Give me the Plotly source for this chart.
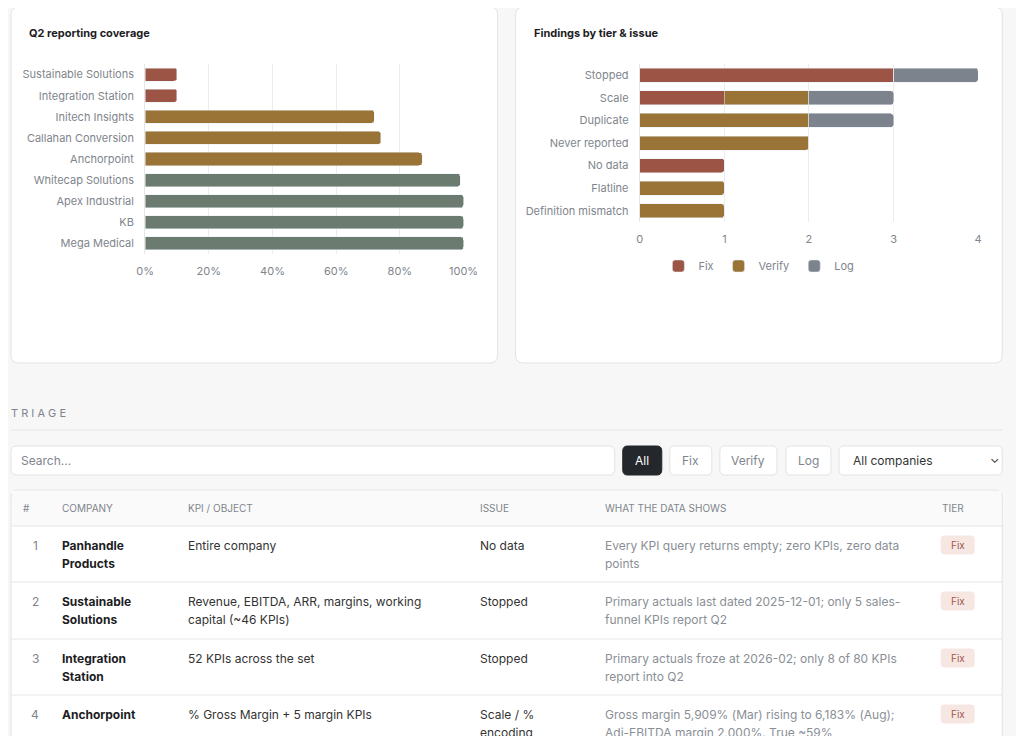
import plotly.graph_objects as go

# coverage chart
companies = ["Sustainable Solutions", "Integration Station", "Initech Insights", "Callahan Conversion",
             "Anchorpoint", "Whitecap Solutions", "Apex Industrial", "KB", "Mega Medical"]
coverage = [10, 10, 72, 74, 87, 99, 100, 100, 100]
coverage_tier = ["Fix", "Fix", "Verify", "Verify", "Verify", "Log", "Log", "Log", "Log"]

# findings chart
issues = ["Stopped", "Scale", "Duplicate", "Never reported", "No data", "Flatline", "Definition mismatch"]
fix_counts = [3, 1, 0, 0, 1, 0, 0]
verify_counts = [0, 1, 2, 2, 0, 1, 1]
log_counts = [1, 1, 1, 0, 0, 0, 0]

# triage table
row_num = ["1", "2", "3", "4"]
row_company = [["Panhandle", "Products"], ["Sustainable", "Solutions"], ["Integration", "Station"], ["Anchorpoint"]]
row_kpi = [["Entire company"], ["Revenue, EBITDA, ARR, margins, working", "capital (~46 KPIs)"],
           ["52 KPIs across the set"], ["% Gross Margin + 5 margin KPIs"]]
row_issue = [["No data"], ["Stopped"], ["Stopped"], ["Scale / %", "encoding"]]
row_shows = [["Every KPI query returns empty; zero KPIs, zero data", "points"],
             ["Primary actuals last dated 2025-12-01; only 5 sales-", "funnel KPIs report Q2"],
             ["Primary actuals froze at 2026-02; only 8 of 80 KPIs", "report into Q2"],
             ["Gross margin 5,909% (Mar) rising to 6,183% (Aug);", "Adj-EBITDA margin 2,000%. True ~59%"]]
row_tier = ["Fix", "Fix", "Fix", "Fix"]

# screen position -> figure position (page margin + scaling measured from a render)
OFFX, SX, OFFY = 17, 0.975, 8
W, H = 1008, 728
FONT = "Inter, Noto Sans, sans-serif"
tier_colors = {"Fix": "#9c5545", "Verify": "#9a7436", "Log": "#6c7b6f"}
GRAY = "#7d838c"


def px(x):
    return (x - OFFX) / SX / W


def py(y):
    return 1 - (y - OFFY) / H


def rrect(x0, y0, x1, y1, r=6):
    a, b, c, d = px(x0), py(y0), px(x1), py(y1)
    rx, ry = r / W, r / H
    return (f"M{a+rx},{b} L{c-rx},{b} Q{c},{b} {c},{b-ry} L{c},{d+ry} Q{c},{d} {c-rx},{d} "
            f"L{a+rx},{d} Q{a},{d} {a},{d+ry} L{a},{b-ry} Q{a},{b} {a+rx},{b} Z")


shapes = []
annotations = []


def box(x0, y0, x1, y1, fill="white", line="#e3e3e3", r=8):
    shapes.append(dict(type="path", path=rrect(x0, y0, x1, y1, r), xref="paper", yref="paper",
                       fillcolor=fill, line=dict(color=line, width=1), layer="below"))


def text(x, y, s, size=12, color="#333", bold=False, anchor="left"):
    if bold:
        s = "<b>" + s + "</b>"
    annotations.append(dict(x=px(x), y=py(y), xref="paper", yref="paper", text=s, showarrow=False,
                            xanchor=anchor, yanchor="middle", font=dict(size=size, color=color, family=FONT)))


def hline(x0, x1, y, color="#e6e6e6"):
    shapes.append(dict(type="line", x0=px(x0), x1=px(x1), y0=py(y), y1=py(y), xref="paper", yref="paper",
                       line=dict(color=color, width=1), layer="below"))


# cards
box(11, 7, 497, 363)
box(515, 7, 1001, 363)
text(27, 33, "Q2 reporting coverage", 11, "#1d1d1f", True)
text(531, 33, "Findings by tier & issue", 11, "#1d1d1f", True)

fig = go.Figure()
fig.add_trace(go.Bar(y=companies, x=coverage, orientation="h",
                     marker=dict(color=[tier_colors[t] for t in coverage_tier]),
                     width=0.62, showlegend=False, xaxis="x", yaxis="y"))
for name, vals, col in [("Fix", fix_counts, tier_colors["Fix"]), ("Verify", verify_counts, tier_colors["Verify"]),
                        ("Log", log_counts, GRAY)]:
    fig.add_trace(go.Bar(y=issues, x=vals, orientation="h", name=name, marker=dict(color=col),
                         width=0.62, xaxis="x2", yaxis="y2"))

axfont = dict(size=11, color="#80858d", family=FONT)

# triage section
text(9, 413, "T R I A G E", 11, "#80858d")
hline(11, 1001, 430)
box(11, 446, 614, 475, r=6)
text(19, 460, "Search...", 12, "#80858d")
box(622, 446, 661, 475, fill="#24272b", line="#24272b", r=5)
text(641.5, 460, "All", 12, "white", anchor="center")
for lab, a, b in [("Fix", 669, 711), ("Verify", 719, 776), ("Log", 785, 830)]:
    box(a, 446, b, 475, r=5)
    text((a + b) / 2, 460, lab, 12, "#80858d", anchor="center")
box(838, 446, 1001, 475, r=5)
text(850, 460, "All companies", 12, "#333")
text(993, 458, "⌄", 12, "#333", anchor="center")

box(11, 490, 1001, 790, r=8)
shapes.append(dict(type="rect", x0=px(12), x1=px(1000), y0=py(491), y1=py(526), xref="paper", yref="paper",
                   fillcolor="#fafafa", line=dict(width=0), layer="below"))
hline(11, 1001, 526)
heads = [("#", 21), ("COMPANY", 60), ("KPI / OBJECT", 186), ("ISSUE", 477),
         ("WHAT THE DATA SHOWS", 602), ("TIER", 939)]
for h, x in heads:
    text(x, 508, h, 10, "#80858d")

row_tops = [526, 582, 639, 695]
for i in range(len(row_num)):
    top = row_tops[i]
    if i > 0:
        hline(11, 1001, top)
    y1 = top + 19
    text(35, y1, row_num[i], 12, "#80858d", anchor="center")
    for j, s in enumerate(row_company[i]):
        text(60, y1 + 18 * j, s, 12, "#1d1d1f", True)
    for j, s in enumerate(row_kpi[i]):
        text(186, y1 + 18 * j, s, 12, "#333")
    for j, s in enumerate(row_issue[i]):
        text(477, y1 + 18 * j, s, 12, "#333")
    for j, s in enumerate(row_shows[i]):
        text(602, y1 + 18 * j, s, 12, "#8a8f96")
    box(940, y1 - 9, 973, y1 + 9, fill="#f6e7e2", line="#f6e7e2", r=3)
    text(956.5, y1, row_tier[i], 10, "#a0574a", anchor="center")

fig.update_layout(
    width=W, height=H, margin=dict(l=0, r=0, t=0, b=0),
    paper_bgcolor="#f7f7f7", plot_bgcolor="rgba(0,0,0,0)",
    barmode="stack", barcornerradius=3, font=dict(family=FONT),
    xaxis=dict(domain=[px(145), px(463)], range=[0, 100], anchor="y", ticksuffix="%", dtick=20,
               showgrid=True, gridcolor="#ececec", zeroline=False, tickfont=axfont, showline=False,
               ticklabelstandoff=9),
    yaxis=dict(domain=[py(254), py(64)], autorange="reversed", anchor="x", tickfont=axfont,
               showline=True, linecolor="#e6e6e6", ticks="", ticklabelstandoff=8),
    xaxis2=dict(domain=[px(639), px(977)], range=[0, 4], anchor="y2", dtick=1,
                showgrid=True, gridcolor="#ececec", zeroline=False, tickfont=axfont, ticklabelstandoff=9),
    yaxis2=dict(domain=[py(222), py(64)], autorange="reversed", anchor="x2", tickfont=axfont,
                showline=True, linecolor="#e6e6e6", ticklabelstandoff=8),
    legend=dict(orientation="h", x=px(758), y=py(266), xanchor="center", yanchor="middle",
                bgcolor="rgba(0,0,0,0)", font=dict(size=11, color="#80858d", family=FONT),
                itemwidth=30, traceorder="normal"),
    shapes=shapes, annotations=annotations,
)

fig.write_html("out.html")
